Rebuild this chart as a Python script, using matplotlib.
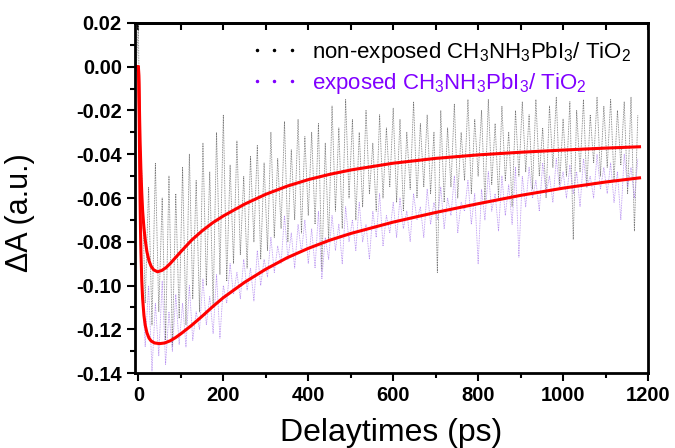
import matplotlib
matplotlib.use("Agg")
import matplotlib.pyplot as plt
from matplotlib.lines import Line2D
from matplotlib.ticker import MultipleLocator

plt.rcParams['font.family'] = ['Liberation Sans', 'DejaVu Sans']
plt.rcParams['mathtext.fontset'] = 'custom'
plt.rcParams['mathtext.rm'] = 'Liberation Sans'
plt.rcParams['mathtext.it'] = 'Liberation Sans:italic'
plt.rcParams['mathtext.bf'] = 'Liberation Sans:bold'

# delay grid (ps) shared by both measured traces
delay_ps = [-10, -5, 0, 3] + list(range(8, 1184, 8))

# non-exposed CH3NH3PbI3/TiO2
dA_nonexposed = [
    0.001, -0.002, 0.021, -0.035,
    -0.048, -0.108, -0.055, -0.118, -0.044, -0.112, -0.060, -0.125, -0.050, -0.128, -0.058, -0.115,
    -0.046, -0.118, -0.040, -0.106, -0.052, -0.112, -0.035, -0.100, -0.048, -0.110, -0.030, -0.095, -0.022,
    -0.098, -0.045, -0.090, -0.034, -0.086, -0.050, -0.092, -0.041, -0.080, -0.036, -0.088, -0.044,
    -0.084, -0.030, -0.078, -0.042, -0.074, -0.025, -0.080, -0.038, -0.070, -0.024, -0.076, -0.032, -0.068,
    -0.030, -0.072, -0.026, -0.093, -0.035, -0.080, -0.018, -0.066, -0.028, -0.074, -0.015, -0.060,
    -0.024, -0.070, -0.030, -0.064, -0.020, -0.058, -0.035, -0.066, -0.022, -0.060, -0.028, -0.055, -0.019,
    -0.062, -0.024, -0.066, -0.030, -0.056, -0.016, -0.060, -0.026, -0.055, -0.022, -0.058, -0.030,
    -0.094, -0.020, -0.062, -0.028, -0.055, -0.017, -0.060, -0.030, -0.052, -0.015, -0.058, -0.024, -0.050,
    -0.020, -0.062, -0.015, -0.054, -0.026, -0.060, -0.018, -0.052, -0.030, -0.064, -0.020, -0.050,
    -0.016, -0.048, -0.022, -0.056, -0.015, -0.050, -0.028, -0.060, -0.018, -0.046, -0.014, -0.054, -0.024,
    -0.050, -0.016, -0.079, -0.020, -0.048, -0.015, -0.055, -0.022, -0.044, -0.014, -0.050, -0.018,
    -0.046, -0.015, -0.052, -0.020, -0.045, -0.016, -0.058, -0.014, -0.075, -0.022,
]

# exposed CH3NH3PbI3/TiO2
dA_exposed = [
    0.000, -0.001, -0.004, -0.060,
    -0.095, -0.128, -0.100, -0.139, -0.108, -0.132, -0.098, -0.136, -0.112, -0.130, -0.104, -0.127,
    -0.108, -0.128, -0.100, -0.125, -0.112, -0.120, -0.097, -0.118, -0.105, -0.122, -0.095, -0.124, -0.100,
    -0.108, -0.090, -0.104, -0.094, -0.106, -0.088, -0.102, -0.092, -0.107, -0.084, -0.100, -0.088,
    -0.096, -0.078, -0.094, -0.082, -0.090, -0.068, -0.088, -0.076, -0.092, -0.072, -0.085, -0.070, -0.090,
    -0.074, -0.092, -0.066, -0.097, -0.078, -0.088, -0.068, -0.084, -0.072, -0.090, -0.064, -0.080,
    -0.070, -0.084, -0.062, -0.080, -0.072, -0.088, -0.066, -0.078, -0.058, -0.082, -0.068, -0.076, -0.062,
    -0.078, -0.060, -0.074, -0.066, -0.080, -0.058, -0.070, -0.064, -0.078, -0.056, -0.072, -0.062,
    -0.070, -0.055, -0.074, -0.060, -0.068, -0.050, -0.076, -0.062, -0.066, -0.052, -0.072, -0.058, -0.090,
    -0.056, -0.070, -0.048, -0.066, -0.058, -0.075, -0.050, -0.068, -0.054, -0.072, -0.046, -0.087,
    -0.050, -0.064, -0.046, -0.060, -0.052, -0.066, -0.044, -0.058, -0.050, -0.062, -0.042, -0.056, -0.048,
    -0.060, -0.045, -0.058, -0.048, -0.064, -0.042, -0.055, -0.050, -0.060, -0.040, -0.056, -0.046,
    -0.058, -0.044, -0.062, -0.048, -0.070, -0.040, -0.055, -0.046, -0.060, -0.042,
]

# fitted curves
fit_nonexp_t = [-12, 0, 1, 2, 3, 4, 6, 8, 10, 13, 16, 20, 25, 30, 36, 45, 55, 65, 75, 87,
                100, 125, 150, 175, 200, 250, 300, 350, 400, 450, 500,
                600, 700, 800, 900, 1000, 1100, 1180]
fit_nonexp_y = [0.0, 0.0, -0.004, -0.014, -0.025, -0.034, -0.048, -0.058, -0.066, -0.0735,
                -0.079, -0.0845, -0.0887, -0.0912, -0.0928, -0.0937, -0.0931, -0.0918,
                -0.0899, -0.0873, -0.0845, -0.0793, -0.0750, -0.0713, -0.0682, -0.0628,
                -0.0583, -0.0546, -0.0516, -0.0492, -0.0472, -0.0441, -0.0419, -0.0403,
                -0.0391, -0.0381, -0.0372, -0.0366]

fit_exp_t = [-12, 0, 1, 2, 3, 4, 5, 6, 8, 10, 13, 16, 20, 25, 30, 38, 50, 62, 75, 87,
             100, 125, 150, 175, 200, 250, 300, 350, 400, 450, 500,
             600, 700, 800, 900, 1000, 1100, 1180]
fit_exp_y = [0.0, 0.0, -0.008, -0.025, -0.045, -0.062, -0.075, -0.085, -0.098, -0.106,
             -0.1135, -0.118, -0.1215, -0.124, -0.1253, -0.1262, -0.1265, -0.1262,
             -0.1252, -0.1238, -0.1220, -0.1182, -0.1140, -0.1096, -0.1055, -0.0985,
             -0.0925, -0.0873, -0.0830, -0.0793, -0.0762, -0.0710, -0.0666, -0.0626,
             -0.0588, -0.0555, -0.0527, -0.0508]

x_ticks = [0, 200, 400, 600, 800, 1000, 1200]
x_tick_labels = ['0', '200', '400', '600', '800', '1000', '1200']
y_ticks = [-0.14, -0.12, -0.10, -0.08, -0.06, -0.04, -0.02, 0.00, 0.02]
y_tick_labels = ['-0.14', '-0.12', '-0.10', '-0.08', '-0.06', '-0.04', '-0.02', '0.00', '0.02']

purple = '#8000ff'

fig = plt.figure(figsize=(6.75, 4.48), dpi=100)
ax = fig.add_axes([0.2, 0.167, 0.76, 0.782])

ax.plot(delay_ps, dA_nonexposed, color='0.45', lw=0.6, ls=(0, (1, 1)))
ax.plot(delay_ps, dA_exposed, color='#b48cf0', lw=0.6, ls=(0, (1, 1)))
ax.plot(fit_nonexp_t, fit_nonexp_y, color='red', lw=2.2)
ax.plot(fit_exp_t, fit_exp_y, color='red', lw=2.2)

ax.set_xlim(-8, 1200)
ax.set_ylim(-0.14, 0.02)
ax.set_xticks(x_ticks)
ax.set_xticklabels(x_tick_labels, fontweight='bold', fontsize=14.5)
ax.set_yticks(y_ticks)
ax.set_yticklabels(y_tick_labels, fontweight='bold', fontsize=14.5)
ax.xaxis.set_minor_locator(MultipleLocator(100))
ax.yaxis.set_minor_locator(MultipleLocator(0.01))

ax.tick_params(axis='both', which='major', direction='out', length=6, width=1.5,
               top=False, right=False)
ax.tick_params(axis='both', which='minor', direction='out', length=3.5, width=1.5,
               top=False, right=False)

# inward ticks along the top edge
top = ax.secondary_xaxis('top')
top.set_xticks(range(0, 1201, 100))
top.tick_params(direction='in', length=5, width=1.5, labeltop=False)
top.spines['top'].set_linewidth(2)

for s in ax.spines.values():
    s.set_linewidth(2)

ax.set_xlabel('Delaytimes (ps)', fontsize=23)
ax.set_ylabel('ΔA (a.u.)', fontsize=22)
ax.xaxis.set_label_coords(0.499, -0.128)
ax.yaxis.set_label_coords(-0.195, 0.459)

handles = [Line2D([], [], ls='none', marker='.', ms=3, color='black'),
           Line2D([], [], ls='none', marker='.', ms=3, color=purple)]
labels = ['non-exposed CH$_3$NH$_3$PbI$_3$/ TiO$_2$',
          'exposed CH$_3$NH$_3$PbI$_3$/ TiO$_2$']
leg = ax.legend(handles, labels, loc='upper right', bbox_to_anchor=(1.0, 1.0),
                frameon=False, prop={'size': 16}, numpoints=3,
                handlelength=2.2, handletextpad=0.6, labelspacing=0.3,
                borderaxespad=0.45, borderpad=0.3)
leg.get_texts()[1].set_color(purple)

fig.savefig('out.png', dpi=100)
